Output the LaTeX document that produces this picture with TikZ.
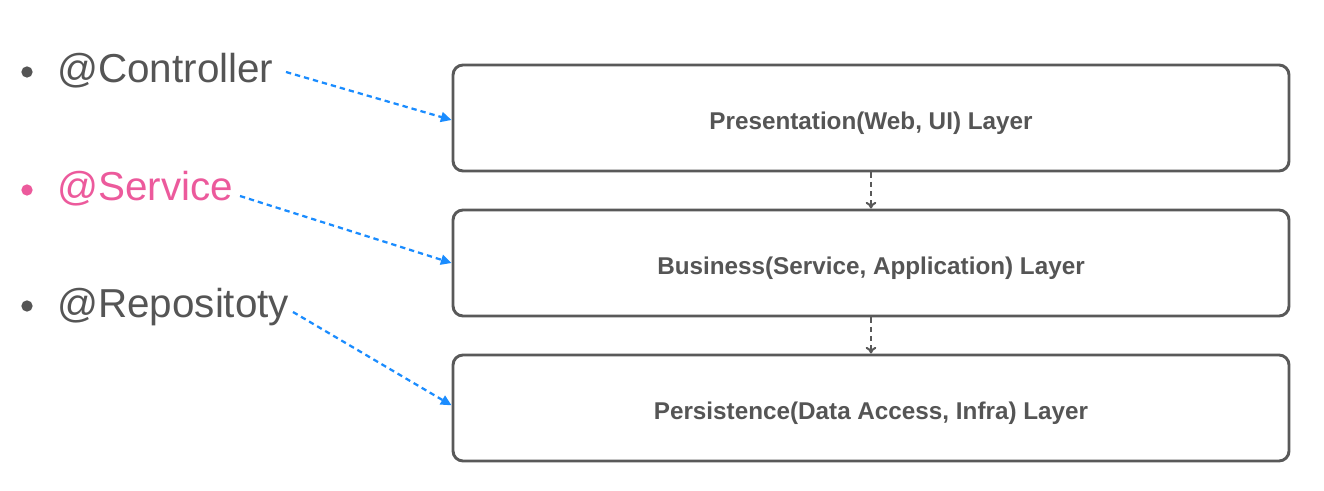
\documentclass[tikz,border=0pt]{standalone}
\usepackage{fontspec}
\setmainfont{Liberation Sans}
\usetikzlibrary{arrows.meta}
\definecolor{txt}{HTML}{555555}
\definecolor{frame}{HTML}{595959}
\definecolor{pinkc}{HTML}{EC5A9C}
\definecolor{bluec}{HTML}{1A8CFF}
\begin{document}
\begin{tikzpicture}[x=0.75pt,y=-0.75pt,
  layerbox/.style={draw=frame,line width=2.2pt,rounded corners=7.5pt,minimum width=627pt,minimum height=79.5pt,inner sep=0pt,text height=13.1pt,text depth=0pt,font=\fontsize{18.2pt}{20pt}\selectfont\bfseries,text=txt},
  tag/.style={anchor=base west,inner sep=0pt,font=\fontsize{30.3pt}{32pt}\selectfont},
  bul/.style={circle,inner sep=0pt,minimum size=8.5pt},
  blink/.style={bluec,line width=1.7pt,dash pattern=on 4pt off 3pt,-{Triangle[length=8pt,width=7.5pt]}},
  glink/.style={frame,line width=1.7pt,dash pattern=on 4pt off 3pt,-{To[length=5pt,width=8pt,line width=1.5pt]}}
]
\useasboundingbox (0,0) rectangle (1324,491);
\node[layerbox] (b1) at (871,118) {\raisebox{-2pt}{Presentation(Web, UI) Layer}};
\node[layerbox] (b2) at (871,263) {\raisebox{-2pt}{Business(Service, Application) Layer}};
\node[layerbox] (b3) at (871,408) {\raisebox{-2pt}{Persistence(Data Access, Infra) Layer}};
\node[bul,fill=txt] (d1) at (27,72) {};
\node[bul,fill=pinkc] (d2) at (27,190) {};
\node[bul,fill=txt] (d3) at (27,306) {};
\node[tag,text=txt] (l1) at (57,83) {@Controller};
\node[tag,text=pinkc] (l2) at (57,201) {@Service};
\node[tag,text=txt] (l3) at (57,318) {@Repositoty};
\coordinate (s1) at (286,72);
\coordinate (s2) at (240,196);
\coordinate (s3) at (293,312);
\draw[blink] (s1) -- ([yshift=-1.5]b1.west);
\draw[blink] (s2) -- (b2.west);
\draw[blink] (s3) -- ([yshift=2]b3.west);
\draw[glink] (b1.south) -- (b2.north);
\draw[glink] (b2.south) -- (b3.north);
\end{tikzpicture}
\end{document}
